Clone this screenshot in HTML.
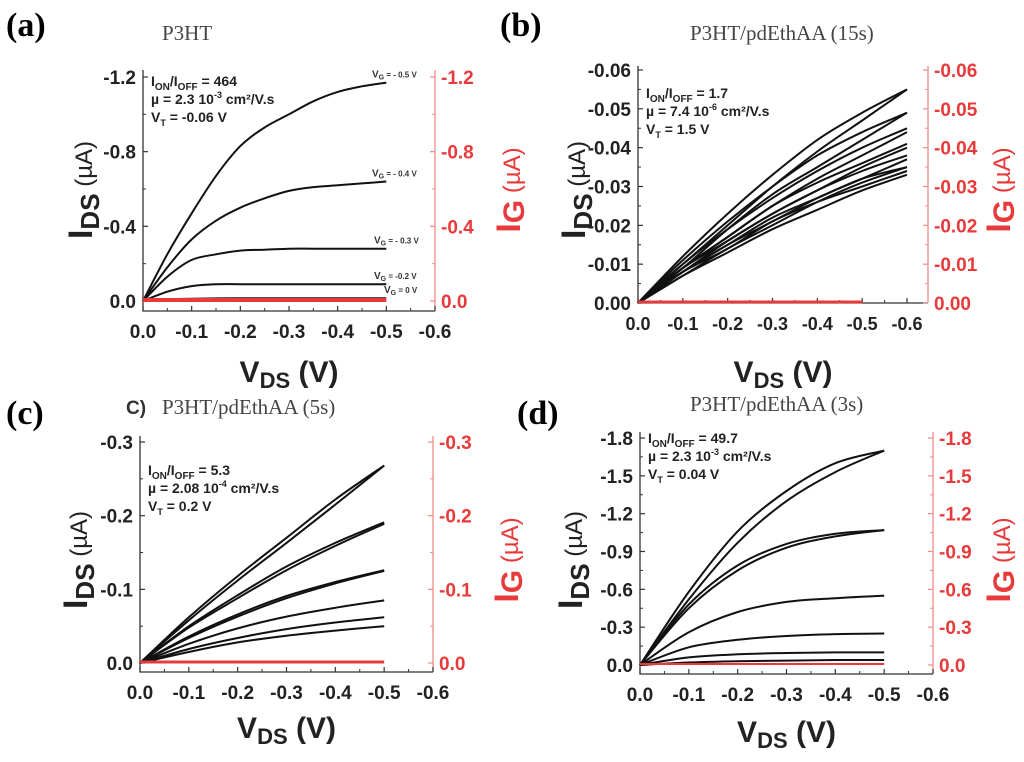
<!DOCTYPE html>
<html><head><meta charset="utf-8">
<style>
html,body{margin:0;padding:0;background:#fff;}
svg{display:block;}
text{font-family:"Liberation Sans",sans-serif;}
.serif{font-family:"Liberation Serif",serif;}
</style></head>
<body>
<svg id="fig" width="1024" height="762" viewBox="0 0 1024 762" xmlns="http://www.w3.org/2000/svg">
<text class="serif" x="6" y="36" font-size="34" font-weight="bold">(a)</text>
<text class="serif" x="500" y="36" font-size="34" font-weight="bold">(b)</text>
<text class="serif" x="6" y="424" font-size="34" font-weight="bold">(c)</text>
<text class="serif" x="517" y="424" font-size="34" font-weight="bold">(d)</text>
<text class="serif" x="162" y="40" font-size="21" fill="#444">P3HT</text>
<text class="serif" x="690" y="40" font-size="21" fill="#444">P3HT/pdEthAA (15s)</text>
<text x="126" y="414" font-size="19" font-weight="bold" fill="#333">C)</text>
<text class="serif" x="162" y="414" font-size="21" fill="#444">P3HT/pdEthAA (5s)</text>
<text class="serif" x="690" y="411" font-size="21" fill="#444">P3HT/pdEthAA (3s)</text>
</svg>
<script>
// ---- data ----
const xTicks = [0, -0.1, -0.2, -0.3, -0.4, -0.5, -0.6];
const xTickLabels = ["0.0","-0.1","-0.2","-0.3","-0.4","-0.5","-0.6"];
// panel a (VDS step 0.05 from 0 to -0.5)
const aVds = [0,-0.05,-0.1,-0.15,-0.2,-0.25,-0.3,-0.35,-0.4,-0.45,-0.5];
const aVg05 = [0,0.25,0.47,0.67,0.83,0.93,1.00,1.07,1.12,1.15,1.17];
const aVg04 = [0,0.18,0.33,0.43,0.50,0.55,0.59,0.61,0.62,0.63,0.64];
const aVg03 = [0,0.13,0.22,0.25,0.27,0.275,0.28,0.28,0.28,0.28,0.28];
const aVg02 = [0,0.05,0.08,0.09,0.09,0.09,0.09,0.09,0.09,0.09,0.09];
const aVg00 = [0,0.01,0.012,0.014,0.015,0.015,0.015,0.015,0.015,0.015,0.015];
const aIG = [0,0,0,0,0,0,0,0,0,0,0];
const aYTicks = [0,-0.4,-0.8,-1.2];
const aYLabels = ["0.0","-0.4","-0.8","-1.2"];
// panel b (VDS step 0.1 from 0 to -0.6), forward & reverse sweeps
const bVds = [0,-0.1,-0.2,-0.3,-0.4,-0.5,-0.6];
const bC1f = [0,0.012,0.023,0.033,0.042,0.049,0.055];
const bC1r = [0,0.010,0.020,0.030,0.039,0.047,0.055];
const bC2f = [0,0.011,0.021,0.030,0.038,0.044,0.049];
const bC2r = [0,0.009,0.019,0.028,0.035,0.042,0.049];
const bC3f = [0,0.010,0.019,0.027,0.034,0.040,0.045];
const bC3r = [0,0.009,0.017,0.025,0.032,0.038,0.044];
const bC4f = [0,0.009,0.017,0.025,0.031,0.036,0.041];
const bC4r = [0,0.008,0.016,0.023,0.029,0.035,0.040];
const bC5f = [0,0.009,0.016,0.023,0.029,0.034,0.038];
const bC5r = [0,0.008,0.015,0.021,0.027,0.032,0.037];
const bC6f = [0,0.008,0.015,0.022,0.027,0.032,0.035];
const bC6r = [0,0.007,0.014,0.020,0.026,0.031,0.035];
const bC7f = [0,0.008,0.014,0.021,0.026,0.030,0.034];
const bC7r = [0,0.007,0.013,0.019,0.024,0.029,0.033];
const bIG = [0,0,0,0,0,0];
const bYTicks = [0,-0.01,-0.02,-0.03,-0.04,-0.05,-0.06];
const bYLabels = ["0.00","-0.01","-0.02","-0.03","-0.04","-0.05","-0.06"];
// panel c (VDS step 0.1 from 0 to -0.5)
const cVds = [0,-0.1,-0.2,-0.3,-0.4,-0.5];
const cC1f = [0,0.062,0.118,0.170,0.222,0.268];
const cC1r = [0,0.058,0.112,0.163,0.215,0.268];
const cC2f = [0,0.050,0.092,0.131,0.163,0.191];
const cC2r = [0,0.048,0.088,0.126,0.159,0.189];
const cC3f = [0,0.036,0.066,0.091,0.110,0.126];
const cC3r = [0,0.034,0.063,0.088,0.108,0.125];
const cC4 = [0,0.026,0.047,0.063,0.075,0.085];
const cC5 = [0,0.019,0.034,0.046,0.055,0.062];
const cC6 = [0,0.015,0.028,0.037,0.044,0.050];
const cIG = [0,0,0,0,0,0];
const cYTicks = [0,-0.1,-0.2,-0.3];
const cYLabels = ["0.0","-0.1","-0.2","-0.3"];
// panel d
const dVds = [0,-0.1,-0.2,-0.3,-0.4,-0.5];
const dC1f = [0,0.58,1.06,1.38,1.60,1.70];
const dC1r = [0,0.52,0.97,1.30,1.53,1.70];
const dC2f = [0,0.48,0.79,0.96,1.04,1.07];
const dC2r = [0,0.45,0.75,0.93,1.02,1.07];
const dC3 = [0,0.26,0.42,0.50,0.53,0.55];
const dC4 = [0,0.14,0.20,0.23,0.245,0.25];
const dC5 = [0,0.06,0.085,0.095,0.10,0.10];
const dC6 = [0,0.02,0.03,0.035,0.04,0.04];
const dIG = [0,0,0,0,0,0];
const dYTicks = [0,-0.3,-0.6,-0.9,-1.2,-1.5,-1.8];
const dYLabels = ["0.0","-0.3","-0.6","-0.9","-1.2","-1.5","-1.8"];

const NS = "http://www.w3.org/2000/svg";
const svg = document.getElementById("fig");
function mk(tag, attrs, parent, txt){
  const e = document.createElementNS(NS, tag);
  for (const k in attrs) e.setAttribute(k, attrs[k]);
  if (txt !== undefined) e.textContent = txt;
  (parent || svg).appendChild(e);
  return e;
}
function smooth(pts){
  let d = "M" + pts[0][0].toFixed(1) + "," + pts[0][1].toFixed(1);
  for (let i = 0; i < pts.length - 1; i++){
    const p0 = pts[Math.max(0,i-1)], p1 = pts[i], p2 = pts[i+1], p3 = pts[Math.min(pts.length-1,i+2)];
    const c1x = p1[0] + (p2[0]-p0[0])/6, c1y = p1[1] + (p2[1]-p0[1])/6;
    const c2x = p2[0] - (p3[0]-p1[0])/6, c2y = p2[1] - (p3[1]-p1[1])/6;
    d += " C" + c1x.toFixed(1)+","+c1y.toFixed(1)+" "+c2x.toFixed(1)+","+c2y.toFixed(1)+" "+p2[0].toFixed(1)+","+p2[1].toFixed(1);
  }
  return d;
}
function panel(P){
  const g = mk("g", {});
  
  
  const xs = v => P.x0 + (v / -0.6) * (P.x6 - P.x0);
  const Y = v => P.y0 + (v / P.yTop) * (P.yT - P.y0);
  const ax = mk("path", {d:`M${P.x0},${P.top} L${P.x0},${P.bot} L${P.xr},${P.bot}`, stroke:"#333", "stroke-width":1.3, fill:"none"}, g);
  
  
  const rx = mk("line", {x1:P.xr, y1:P.top, x2:P.xr, y2:P.bot, stroke:"#f08a8a", "stroke-width":1.3}, g);
  
  
  xTicks.forEach((t,i)=>{
    const x = xs(t);
    mk("line",{x1:x,y1:P.bot,x2:x,y2:P.bot-5,stroke:"#333","stroke-width":1.2},g);
    if (i<6){ const xm = xs(t-0.05); mk("line",{x1:xm,y1:P.bot,x2:xm,y2:P.bot-3,stroke:"#333","stroke-width":1},g); }
    const tl = mk("text",{x:x,y:P.bot+27,"font-size":P.xfs||19,"font-weight":"bold","text-anchor":"middle",fill:"#222"},g,xTickLabels[i]);
    
    
  });
  P.yTicks.forEach((t,i)=>{
    const y = Y(t);
    mk("line",{x1:P.x0,y1:y,x2:P.x0+5,y2:y,stroke:"#333","stroke-width":1.2},g);
    mk("line",{x1:P.xr,y1:y,x2:P.xr-5,y2:y,stroke:"#f08a8a","stroke-width":1.2},g);
    if (i < P.yTicks.length-1){
      const ym = Y((t + P.yTicks[i+1])/2);
      mk("line",{x1:P.x0,y1:ym,x2:P.x0+3,y2:ym,stroke:"#333","stroke-width":1},g);
      mk("line",{x1:P.xr,y1:ym,x2:P.xr-3,y2:ym,stroke:"#f08a8a","stroke-width":1},g);
    }
    const l = mk("text",{x:P.x0-7,y:y+7,"font-size":19,"font-weight":"bold","text-anchor":"end",fill:"#222"},g,P.yLabels[i]);
    
    
    const r = mk("text",{x:P.xr+6,y:y+7,"font-size":19,"font-weight":"bold",fill:"#e83a3a"},g,P.yLabels[i]);
    
    
  });
  P.curves.forEach(c=>{
    const pts = c.y.map((v,i)=>[xs(P.vds[i]), Y(-v)]);
    const p = mk("path",{d:smooth(pts),stroke:"#111","stroke-width":2,fill:"none"},g);
    
    
  });
  const ig = P.ig.map((v,i)=>[xs(P.vds[i]), Y(-v)-1]);
  const rp = mk("path",{d:smooth(ig),stroke:"#e83a3a","stroke-width":P.igw||3,fill:"none"},g);
  
  
  const cx = (P.x0+P.xr)/2;
  const xt = mk("text",{x:cx,y:P.xty,"font-size":30,"font-weight":"bold","text-anchor":"middle",fill:"#222"},g);
  
  
  mk("tspan",{},xt,"V");
  mk("tspan",{"font-size":22,dy:6},xt,"DS");
  mk("tspan",{dy:-6},xt," (V)");
  const yl = mk("text",{transform:`translate(${P.ytx},${P.ytc}) rotate(-90)`,"font-size":34,"font-weight":"bold","text-anchor":"middle",fill:"#222"},g);
  
  
  mk("tspan",{},yl,"I");
  mk("tspan",{"font-size":26,dy:7},yl,"DS");
  mk("tspan",{"font-size":24,"font-weight":"normal",dy:-7},yl," (µA)");
  const yr = mk("text",{transform:`translate(${P.ytr},${P.ytc}) rotate(-90)`,"font-size":34,"font-weight":"bold","text-anchor":"middle",fill:"#e83a3a"},g);
  
  
  mk("tspan",{},yr,"I");
  mk("tspan",{"font-size":30,dy:4},yr,"G");
  mk("tspan",{"font-size":24,"font-weight":"normal",dy:-4},yr," (µA)");
  const ax0 = P.x0+8, ay0 = P.ann;
  const t1 = mk("text",{x:ax0,y:ay0,"font-size":14,"font-weight":"bold",fill:"#222"},g);
  
  
  mk("tspan",{},t1,"I"); mk("tspan",{"font-size":10,dy:4},t1,"ON"); mk("tspan",{dy:-4},t1,"/I");
  mk("tspan",{"font-size":10,dy:4},t1,"OFF"); mk("tspan",{dy:-4},t1," = "+P.a1);
  const t2 = mk("text",{x:ax0,y:ay0+18,"font-size":14,"font-weight":"bold",fill:"#222"},g);
  
  
  mk("tspan",{},t2,"µ =  "+P.a2+" 10"); mk("tspan",{"font-size":9,dy:-6},t2,P.a2e);
  mk("tspan",{dy:6},t2," cm²/V.s");
  const t3 = mk("text",{x:ax0,y:ay0+36,"font-size":14,"font-weight":"bold",fill:"#222"},g);
  
  
  mk("tspan",{},t3,"V"); mk("tspan",{"font-size":9,dy:4},t3,"T"); mk("tspan",{dy:-4},t3," = "+P.a3);
  return {g, xs, Y};
}
const A = panel({name:"panel-a",x0:143,x6:435,xr:435,y0:301,yT:77,yTop:-1.2,top:70,bot:311,
  yTicks:aYTicks,yLabels:aYLabels,vds:aVds,
  curves:[{y:aVg05},{y:aVg04},{y:aVg03},{y:aVg02},{y:aVg00}],ig:aIG,igw:4,
  xty:382,ytx:92,ytr:520,ytc:190,ann:86,a1:"464",a2:"2.3",a2e:"-3",a3:"-0.06 V"});
const vgVals = [aVg05, aVg04, aVg03, aVg02, aVg00];
const vgLabels = ["= - 0.5 V","= - 0.4 V","= - 0.3 V","= -0.2 V","= 0 V"];
const vgDx = [0,0,2,2,12];
vgVals.forEach((arr,i)=>{
  const y = A.Y(-arr[arr.length-1]) - 5;
  const t = mk("text",{x:372+vgDx[i],y:y,"font-size":8,"font-weight":"bold",fill:"#333"},A.g);
  
  
  mk("tspan",{"font-size":10},t,"V"); mk("tspan",{"font-size":7,dy:2},t,"G"); mk("tspan",{dy:-2},t," "+vgLabels[i]);
});
panel({name:"panel-b",x0:638,x6:907,xr:928,y0:303,yT:70,yTop:-0.06,top:66,bot:303,xfs:18,
  yTicks:bYTicks,yLabels:bYLabels,vds:bVds,
  curves:[{y:bC1f},{y:bC1r},{y:bC2f},{y:bC2r},{y:bC3f},{y:bC3r},{y:bC4f},{y:bC4r},{y:bC5f},{y:bC5r},{y:bC6f},{y:bC6r},{y:bC7f},{y:bC7r}],
  ig:bIG,igw:3,xty:382,ytx:585,ytr:1010,ytc:190,ann:98,a1:"1.7",a2:"7.4",a2e:"-6",a3:"1.5 V"});
panel({name:"panel-c",x0:140,x6:433,xr:433,y0:663,yT:442,yTop:-0.3,top:436,bot:672,
  yTicks:cYTicks,yLabels:cYLabels,vds:cVds,
  curves:[{y:cC1f},{y:cC1r},{y:cC2f},{y:cC2r},{y:cC3f},{y:cC3r},{y:cC4},{y:cC5},{y:cC6}],
  ig:cIG,igw:3,xty:738,ytx:87,ytr:518,ytc:560,ann:475,a1:"5.3",a2:"2.08",a2e:"-4",a3:"0.2  V"});
panel({name:"panel-d",x0:640,x6:933,xr:933,y0:665,yT:438,yTop:-1.8,top:432,bot:674,
  yTicks:dYTicks,yLabels:dYLabels,vds:dVds,
  curves:[{y:dC1f},{y:dC1r},{y:dC2f},{y:dC2r},{y:dC3},{y:dC4},{y:dC5},{y:dC6}],
  ig:dIG,igw:2,xty:742,ytx:582,ytr:1010,ytc:560,ann:443,a1:"49.7",a2:"2.3",a2e:"-3",a3:"0.04 V"});
</script>
</body></html>
